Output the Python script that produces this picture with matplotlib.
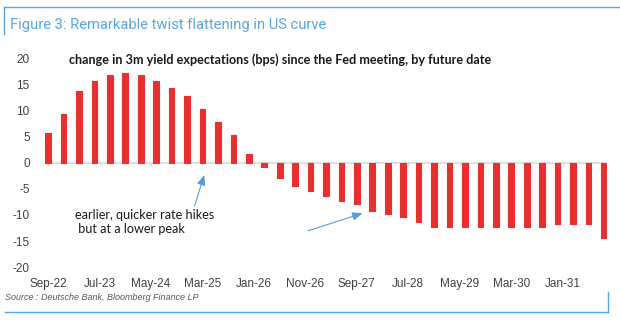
import numpy as np
import matplotlib
matplotlib.use("Agg")
import matplotlib.pyplot as plt
from matplotlib.lines import Line2D

plt.rcParams["axes.unicode_minus"] = False

# quarterly future dates, Sep-22 .. Sep-31 (months since Sep-22)
months = np.arange(0, 109, 3)
# change in 3m yield expectations, bps
change_bps = [5.8, 9.4, 13.8, 15.8, 16.9, 17.4, 16.9, 15.8, 14.4, 12.8,
              10.3, 7.9, 5.3, 1.8, -0.7, -2.8, -4.4, -5.4, -6.3, -7.3,
              -7.8, -9.3, -9.8, -10.3, -11.3, -12.3, -12.3, -12.3, -12.3, -12.3,
              -12.3, -12.3, -12.3, -11.7, -11.8, -11.7, -14.4]

tick_months = np.arange(0, 101, 10)
tick_labels = ["Sep-22", "Jul-23", "May-24", "Mar-25", "Jan-26", "Nov-26",
               "Sep-27", "Jul-28", "May-29", "Mar-30", "Jan-31"]
y_ticks = [20, 15, 10, 5, 0, -5, -10, -15, -20]

RED = "#e8302f"
BLUE = "#5aa5e6"
ARROW = "#5b9bd5"
GREY = "#404040"

fig = plt.figure(figsize=(6.2, 3.22), dpi=100)
ax = fig.add_axes([0.0726, 0.1708, 0.9064, 0.646])

ax.axhline(0, color="#d9d9d9", lw=1.2, zorder=1)
ax.vlines(tick_months, -0.5, 0, color="#d9d9d9", lw=1, zorder=1)
ax.bar(months, change_bps, width=1.1, color=RED, edgecolor=RED, lw=0.8,
       joinstyle="round", zorder=2)

ax.set_xlim(-0.6, 108.6)
ax.set_ylim(-20, 20)
ax.set_xticks(tick_months)
ax.set_xticklabels(tick_labels)
ax.set_yticks(y_ticks)
ax.tick_params(axis="both", length=0, labelsize=8.5, colors=GREY)
ax.tick_params(axis="y", pad=11)
ax.tick_params(axis="x", pad=8)
for s in ax.spines.values():
    s.set_visible(False)
for lab in ax.get_xticklabels() + ax.get_yticklabels():
    lab.set_family("Liberation Sans")

ax.text(45, 19.9, "change in 3m yield expectations (bps) since the Fed meeting, by future date",
        ha="center", va="center", fontsize=9.1, fontweight="bold", family="Lato", color="#1a1a1a")

ax.annotate("", xy=(30.5, -1.8), xytext=(28.3, -8.8),
            arrowprops=dict(arrowstyle="-|>,head_width=0.25,head_length=0.6",
                            color=ARROW, lw=0.8))
ax.annotate("", xy=(61.6, -9.5), xytext=(50, -13.2),
            arrowprops=dict(arrowstyle="-|>,head_width=0.25,head_length=0.6",
                            color=ARROW, lw=0.8))
ax.text(5.3, -11.3, "earlier, quicker rate hikes\n but at a lower peak", ha="left", va="center",
        fontsize=9.1, family="Lato", color="#1a1a1a", linespacing=1.25)

# title and frame
fig.text(10 / 620, 1 - 25 / 322, "Figure 3: Remarkable twist flattening in US curve",
         ha="left", va="center", fontsize=10.6, family="Roboto", color=BLUE)
fig.add_artist(Line2D([4 / 620, 1], [1 - 7 / 322, 1 - 7 / 322], color=BLUE, lw=1))
fig.add_artist(Line2D([4 / 620, 4 / 620], [1 - 7 / 322, 1 - 34 / 322], color=BLUE, lw=1))
fig.add_artist(Line2D([5 / 620, 608 / 620], [1 - 312 / 322, 1 - 312 / 322], color=BLUE, lw=1))
fig.add_artist(Line2D([608 / 620, 608 / 620], [1 - 312 / 322, 1 - 292 / 322], color=BLUE, lw=1))

fig.text(5 / 620, 1 - 297 / 322, "Source : Deutsche Bank, Bloomberg Finance LP",
         ha="left", va="center", fontsize=6.5, style="italic", family="Liberation Sans",
         color="#595959")

fig.savefig("out.png", dpi=100)
